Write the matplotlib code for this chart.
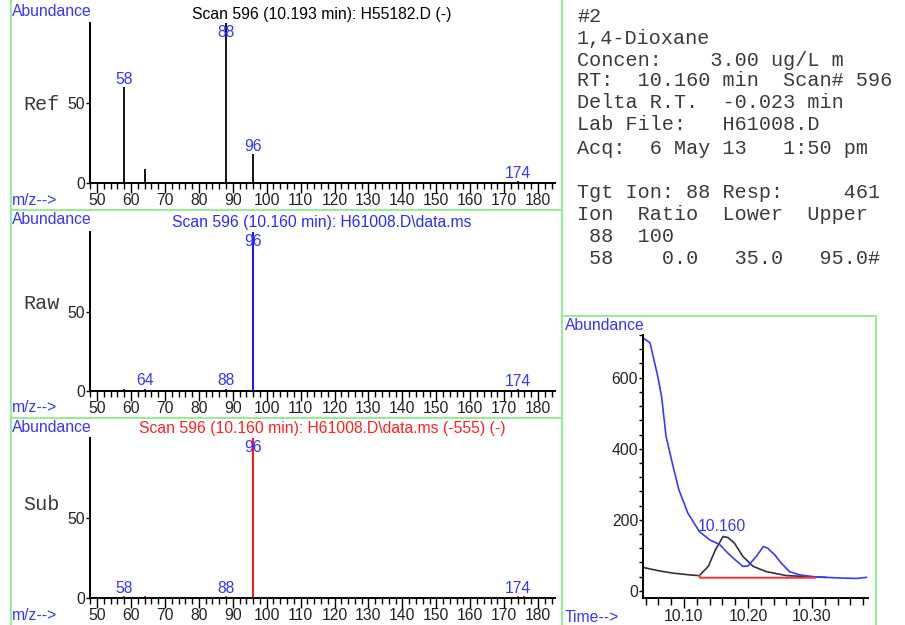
import matplotlib
matplotlib.use("Agg")
import matplotlib.pyplot as plt
from matplotlib.ticker import MultipleLocator, FixedLocator, FormatStrFormatter
from matplotlib.lines import Line2D

# ---------------- data ----------------
ref_mz = [58, 64, 88, 96, 174]
ref_ab = [60, 9, 100, 18, 1]
ref_labels = [58, 88, 96, 174]

raw_mz = [58, 64, 88, 96, 174]
raw_ab = [1, 1.5, 1.5, 100, 1]
raw_labels = [64, 88, 96, 174]

sub_mz = [58, 64, 88, 96, 174, 176]
sub_ab = [1, 1, 1, 100, 1, 1]
sub_labels = [58, 88, 96, 174]

titles = ["Scan 596 (10.193 min): H55182.D (-)",
          "Scan 596 (10.160 min): H61008.D\\data.ms",
          "Scan 596 (10.160 min): H61008.D\\data.ms (-555) (-)"]
panel_names = ["Ref", "Raw", "Sub"]

chrom_t_blue = [10.036, 10.047, 10.059, 10.065, 10.072, 10.083, 10.092, 10.106,
                10.124, 10.140, 10.156, 10.166, 10.177, 10.192, 10.200, 10.213,
                10.224, 10.231, 10.242, 10.252, 10.265, 10.281, 10.302, 10.322,
                10.348, 10.370, 10.385]
chrom_a_blue = [712, 698, 604, 547, 435, 350, 285, 219,
                167, 144, 130, 111, 92, 69, 70, 97,
                125, 120, 101, 78, 54, 45, 40, 38,
                36, 35, 38]
chrom_t_black = [10.036, 10.062, 10.083, 10.109, 10.124, 10.138, 10.149, 10.161,
                 10.169, 10.179, 10.192, 10.208, 10.229, 10.260, 10.296, 10.322]
chrom_a_black = [66, 56, 50, 45, 43, 69, 115, 153,
                 150, 134, 97, 69, 54, 43, 40, 38]
base_t = [10.124, 10.125, 10.305]
base_a = [43, 37, 37]
peak_rt = 10.160
peak_label_a = 181

info_lines = ["#2", "1,4-Dioxane", "Concen:    3.00 ug/L m",
              "RT:  10.160 min  Scan# 596", "Delta R.T.  -0.023 min",
              "Lab File:   H61008.D", "Acq:  6 May 13   1:50 pm"]
ion_lines = ["Tgt Ion: 88 Resp:     461", "Ion  Ratio  Lower  Upper",
             " 88  100", " 58    0.0   35.0   95.0#"]

# ---------------- style ----------------
W, H = 905, 625
SANS = "Liberation Sans"
MONO = "Liberation Mono"
FS = 11.3
BLUE_TXT = "#3535ff"
GREEN = "#8ef08e"
TXT = "#222222"
MONO_C = "#3a3a3a"

fig = plt.figure(figsize=(W / 100, H / 100), dpi=100)


def fx(x):
    return x / W


def fy(y):
    return 1 - y / H


def ftext(x, y, s, **kw):
    fig.text(fx(x), fy(y), s, **kw)


def fline(x0, y0, x1, y1):
    fig.add_artist(Line2D([fx(x0), fx(x1)], [fy(y0), fy(y1)], color=GREEN, lw=1.4,
                          transform=fig.transFigure))


fline(10.5, 0, 10.5, H)
fline(562, 0, 562, H)
fline(10.5, 210, 562, 210)
fline(10.5, 418, 562, 418)
fline(562, 316, 876, 316)
fline(876, 316, 876, H)

panel_tops = [23, 232, 438]
panel_bots = [183, 391, 598]
datasets = [(ref_mz, ref_ab, ref_labels, "black"),
            (raw_mz, raw_ab, raw_labels, "#0000ff"),
            (sub_mz, sub_ab, sub_labels, "#ff0000")]
title_cols = ["black", "#2a2aff", "#ff2020"]
name_y = [104, 304, 504]
abund_y = [12, 220, 427]
mz_y = [200, 408, 615]
title_y = [14, 222, 429]

for i in range(3):
    mz, ab, labs, col = datasets[i]
    top, bot = panel_tops[i], panel_bots[i]
    ax = fig.add_axes([fx(90), fy(bot), fx(555 - 90), (bot - top) / H])
    ax.set_xlim(47.9, 185)
    ax.set_ylim(0, 100)
    ax.vlines(mz, 0, ab, colors=col, lw=1.3)
    for m in labs:
        v = ab[mz.index(m)]
        ax.text(m, min(v + 5, 94), str(m), color=BLUE_TXT, fontsize=FS, family=SANS,
                ha="center", va="center")
    for s in ["top", "right"]:
        ax.spines[s].set_visible(False)
    for s in ["left", "bottom"]:
        ax.spines[s].set_linewidth(1.4)
        ax.spines[s].set_color("black")
    ax.xaxis.set_major_locator(MultipleLocator(10))
    ax.xaxis.set_minor_locator(MultipleLocator(2))
    ax.yaxis.set_major_locator(FixedLocator([0, 50]))
    ax.tick_params(axis="x", which="major", length=7, width=1, direction="out", pad=0,
                   labelsize=FS, labelcolor=TXT)
    ax.tick_params(axis="x", which="minor", length=4, width=1, direction="out")
    ax.tick_params(axis="y", which="major", length=3, width=1, direction="out", pad=0.5,
                   labelsize=FS, labelcolor=TXT)
    for lab in ax.get_xticklabels() + ax.get_yticklabels():
        lab.set_family(SANS)
    ax.patch.set_alpha(0)
    ftext(12, abund_y[i], "Abundance", color=BLUE_TXT, fontsize=FS, family=SANS,
          ha="left", va="center")
    ftext(12, mz_y[i], "m/z-->", color=BLUE_TXT, fontsize=FS, family=SANS,
          ha="left", va="center")
    ftext(322, title_y[i], titles[i], color=title_cols[i],
          fontsize=FS, family=SANS, ha="center", va="center")
    ftext(23, name_y[i], panel_names[i], color=MONO_C, fontsize=14.5, family=MONO,
          ha="left", va="center")

info_y = [17, 38, 60, 81, 103, 125, 148]
for s, y in zip(info_lines, info_y):
    ftext(577, y, s, color=MONO_C, fontsize=14.5, family=MONO, ha="left", va="center")
ion_y = [193, 215, 237, 259]
for s, y in zip(ion_lines, ion_y):
    ftext(577, y, s, color=MONO_C, fontsize=14.5, family=MONO, ha="left", va="center")

axc = fig.add_axes([fx(643), fy(598), fx(868 - 643), (598 - 335) / H])
axc.set_xlim(10.036, 10.3875)
axc.set_ylim(-20, 720)
axc.plot(chrom_t_black, chrom_a_black, color="#333333", lw=1.2)
axc.plot(chrom_t_blue, chrom_a_blue, color="#3a3aff", lw=1.2)
axc.plot(base_t, base_a, color="#ff3030", lw=1.4)
axc.text(peak_rt, peak_label_a, "10.160", color=BLUE_TXT, fontsize=FS, family=SANS,
         ha="center", va="center")
for s in ["top", "right"]:
    axc.spines[s].set_visible(False)
for s in ["left", "bottom"]:
    axc.spines[s].set_linewidth(1.4)
    axc.spines[s].set_color("black")
axc.xaxis.set_major_locator(MultipleLocator(0.1))
axc.xaxis.set_minor_locator(MultipleLocator(0.02))
axc.xaxis.set_major_formatter(FormatStrFormatter("%.2f"))
axc.yaxis.set_major_locator(MultipleLocator(200))
axc.yaxis.set_minor_locator(MultipleLocator(40))
axc.tick_params(axis="x", which="major", length=7, width=1, direction="out", pad=1,
                labelsize=FS, labelcolor=TXT)
axc.tick_params(axis="x", which="minor", length=5, width=1, direction="out")
axc.tick_params(axis="y", which="major", length=3, width=1, direction="out", pad=0.5,
                labelsize=FS, labelcolor=TXT)
axc.tick_params(axis="y", which="minor", length=3, width=1, direction="out")
for lab in axc.get_xticklabels() + axc.get_yticklabels():
    lab.set_family(SANS)
axc.patch.set_alpha(0)
ftext(565, 325, "Abundance", color=BLUE_TXT, fontsize=FS, family=SANS, ha="left",
      va="center")
ftext(565, 617, "Time-->", color=BLUE_TXT, fontsize=FS, family=SANS, ha="left",
      va="center")

fig.savefig("out.png", dpi=100)
